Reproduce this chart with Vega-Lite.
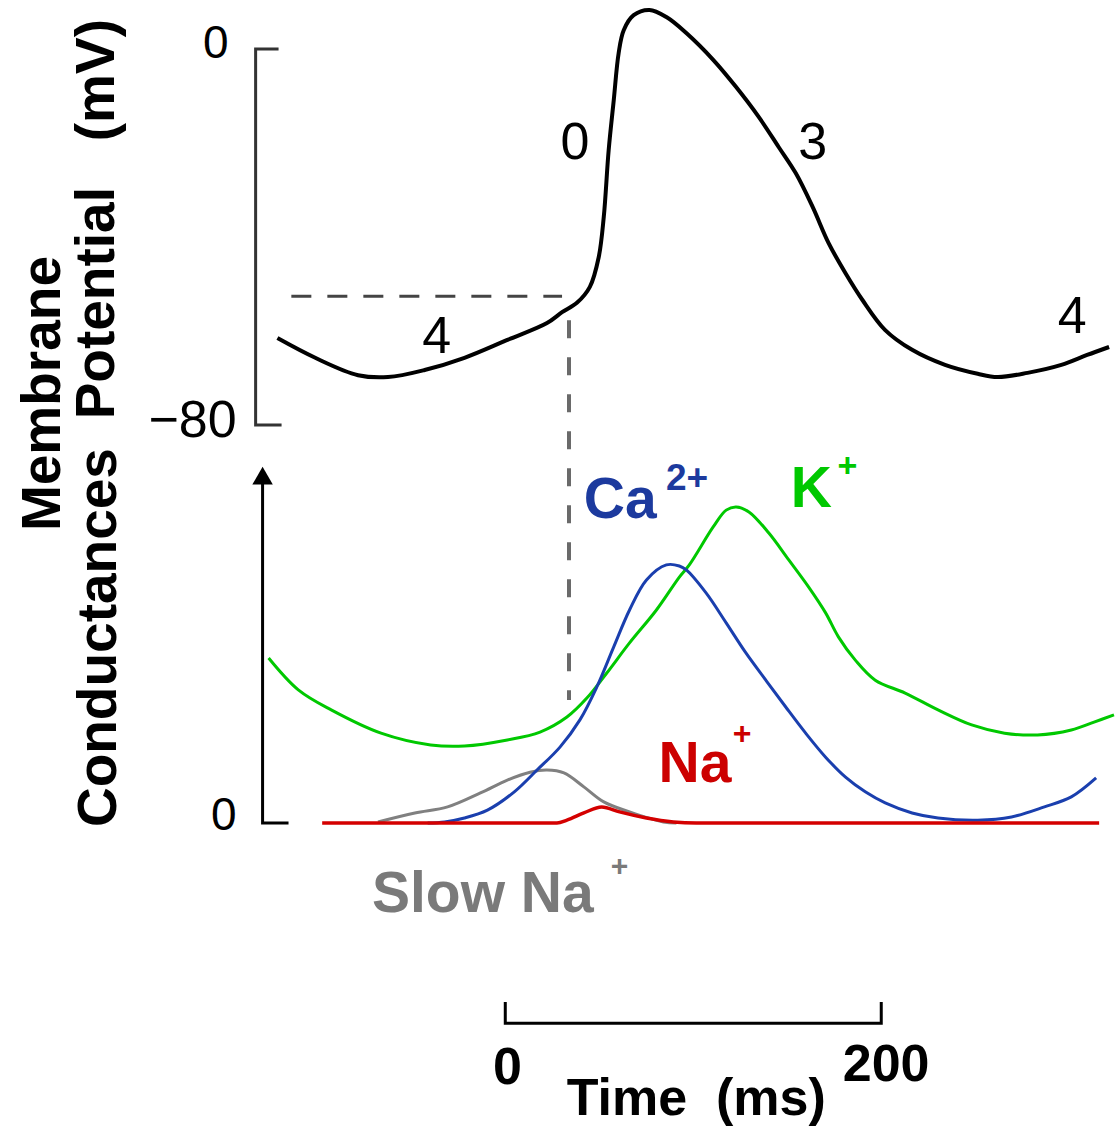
{
  "$schema": "https://vega.github.io/schema/vega-lite/v6.json",
  "width": 1120,
  "height": 1134,
  "autosize": {"type": "fit", "contains": "padding"},
  "padding": 0,
  "background": "white",
  "config": {"view": {"stroke": null}, "font": "Liberation Sans", "text": {"font": "Liberation Sans"}},
  "layer": [
    {
      "layer": [
        {
          "data": {"values": [
            {"t": -120.6, "v": 0, "o": 1},
            {"t": -132.8, "v": 0, "o": 2},
            {"t": -132.8, "v": -80, "o": 3},
            {"t": -119.0, "v": -80, "o": 4}
          ]},
          "mark": {"type": "line", "stroke": "#333333", "strokeWidth": 3, "strokeJoin": "miter", "strokeCap": "butt"},
          "encoding": {
            "x": {"field": "t", "type": "quantitative", "scale": {"domain": [-268.78, 323.81], "nice": false, "zero": false}, "axis": null},
            "y": {"field": "v", "type": "quantitative", "scale": {"domain": [-230.85, 10.43], "nice": false, "zero": false}, "axis": null},
            "order": {"field": "o", "type": "quantitative"}
          }
        },
        {
          "data": {"values": [{"t1": -113.8, "t2": 30.2, "v": -52.6}]},
          "mark": {"type": "rule", "stroke": "#444444", "strokeWidth": 3, "strokeDash": [20, 16]},
          "encoding": {
            "x": {"field": "t1", "type": "quantitative", "scale": {"domain": [-268.78, 323.81], "nice": false, "zero": false}, "axis": null},
            "x2": {"field": "t2"},
            "y": {"field": "v", "type": "quantitative", "scale": {"domain": [-230.85, 10.43], "nice": false, "zero": false}, "axis": null}
          }
        },
        {
          "data": {"values": [{"t": 33.9, "v1": -57.7, "v2": -138.5}]},
          "mark": {"type": "rule", "stroke": "#6a6a6a", "strokeWidth": 4, "strokeDash": [18, 19]},
          "encoding": {
            "x": {"field": "t", "type": "quantitative", "scale": {"domain": [-268.78, 323.81], "nice": false, "zero": false}, "axis": null},
            "y": {"field": "v1", "type": "quantitative", "scale": {"domain": [-230.85, 10.43], "nice": false, "zero": false}, "axis": null},
            "y2": {"field": "v2"}
          }
        },
        {
          "data": {"values": [
            {"t": -121.2, "v": -61.5}, {"t": -101.1, "v": -65.7}, {"t": -78.3, "v": -69.4},
            {"t": -62.4, "v": -69.8}, {"t": -42.9, "v": -68.3}, {"t": -21.7, "v": -65.7},
            {"t": 1.1, "v": -61.9}, {"t": 22.2, "v": -58.3}, {"t": 30.2, "v": -56.0},
            {"t": 38.1, "v": -54.0}, {"t": 45.0, "v": -50.6}, {"t": 49.7, "v": -44.3},
            {"t": 52.4, "v": -35.7}, {"t": 55.0, "v": -21.5}, {"t": 57.7, "v": -10.9},
            {"t": 60.3, "v": -0.9}, {"t": 63.0, "v": 4.0}, {"t": 68.3, "v": 7.2},
            {"t": 76.7, "v": 8.3}, {"t": 85.7, "v": 6.8}, {"t": 96.3, "v": 3.4},
            {"t": 110.6, "v": -2.3}, {"t": 122.8, "v": -8.1}, {"t": 134.9, "v": -14.5},
            {"t": 145.5, "v": -20.9}, {"t": 154.5, "v": -26.4}, {"t": 163.5, "v": -33.6},
            {"t": 172.0, "v": -41.3}, {"t": 181.0, "v": -47.7}, {"t": 190.0, "v": -53.4},
            {"t": 202.1, "v": -59.8}, {"t": 216.4, "v": -64.0}, {"t": 233.9, "v": -67.2},
            {"t": 251.3, "v": -69.1}, {"t": 261.9, "v": -69.8}, {"t": 277.8, "v": -68.9},
            {"t": 295.8, "v": -67.2}, {"t": 309.5, "v": -65.1}, {"t": 321.2, "v": -63.4}
          ]},
          "mark": {"type": "line", "stroke": "#000000", "strokeWidth": 4, "interpolate": "catmull-rom"},
          "encoding": {
            "x": {"field": "t", "type": "quantitative", "scale": {"domain": [-268.78, 323.81], "nice": false, "zero": false}, "axis": null},
            "y": {"field": "v", "type": "quantitative", "scale": {"domain": [-230.85, 10.43], "nice": false, "zero": false}, "axis": null}
          }
        },
        {
          "data": {"values": [
            {"t": 37.0, "v": -23.4, "label": "0"},
            {"t": 163.5, "v": -23.4, "label": "3"},
            {"t": -36.5, "v": -64.7, "label": "4"},
            {"t": 301.6, "v": -60.4, "label": "4"}
          ]},
          "mark": {"type": "text", "fontSize": 52, "align": "center", "baseline": "alphabetic", "color": "#000000"},
          "encoding": {
            "x": {"field": "t", "type": "quantitative", "scale": {"domain": [-268.78, 323.81], "nice": false, "zero": false}, "axis": null},
            "y": {"field": "v", "type": "quantitative", "scale": {"domain": [-230.85, 10.43], "nice": false, "zero": false}, "axis": null},
            "text": {"field": "label"}
          }
        },
        {
          "data": {"values": [
            {"t": -154.0, "v": -1.9, "label": "0"}
          ]},
          "mark": {"type": "text", "fontSize": 46, "align": "center", "baseline": "alphabetic", "color": "#000000"},
          "encoding": {
            "x": {"field": "t", "type": "quantitative", "scale": {"domain": [-268.78, 323.81], "nice": false, "zero": false}, "axis": null},
            "y": {"field": "v", "type": "quantitative", "scale": {"domain": [-230.85, 10.43], "nice": false, "zero": false}, "axis": null},
            "text": {"field": "label"}
          }
        },
        {
          "data": {"values": [
            {"t": -142.9, "v": -82.6, "label": "−80"}
          ]},
          "mark": {"type": "text", "fontSize": 52, "align": "right", "baseline": "alphabetic", "color": "#000000"},
          "encoding": {
            "x": {"field": "t", "type": "quantitative", "scale": {"domain": [-268.78, 323.81], "nice": false, "zero": false}, "axis": null},
            "y": {"field": "v", "type": "quantitative", "scale": {"domain": [-230.85, 10.43], "nice": false, "zero": false}, "axis": null},
            "text": {"field": "label"}
          }
        },
        {
          "data": {"values": [
            {"t": -237.0, "v": -73.3, "label": "Membrane"},
            {"t": -207.9, "v": -36.2, "label": "Potential\u00a0\u00a0\u00a0(mV)"}
          ]},
          "mark": {"type": "text", "fontSize": 55, "fontWeight": "bold", "angle": 270, "align": "center", "baseline": "alphabetic", "color": "#000000"},
          "encoding": {
            "x": {"field": "t", "type": "quantitative", "scale": {"domain": [-268.78, 323.81], "nice": false, "zero": false}, "axis": null},
            "y": {"field": "v", "type": "quantitative", "scale": {"domain": [-230.85, 10.43], "nice": false, "zero": false}, "axis": null},
            "text": {"field": "label"}
          }
        }
      ]
    },
    {
      "layer": [
        {
          "data": {"values": [
            {"t": -129.1, "g": 95, "o": 1},
            {"t": -129.1, "g": 0, "o": 2},
            {"t": -115.3, "g": 0, "o": 3}
          ]},
          "mark": {"type": "line", "stroke": "#000000", "strokeWidth": 3, "strokeJoin": "miter", "strokeCap": "butt"},
          "encoding": {
            "x": {"field": "t", "type": "quantitative", "scale": {"domain": [-268.78, 323.81], "nice": false, "zero": false}, "axis": null},
            "y": {"field": "g", "type": "quantitative", "scale": {"domain": [-86.87, 229.89], "nice": false, "zero": false}, "axis": null},
            "order": {"field": "o", "type": "quantitative"}
          }
        },
        {
          "data": {"values": [{"t": -129.1, "g": 97.0}]},
          "mark": {"type": "point", "shape": "triangle-up", "filled": true, "size": 420, "color": "#000000", "opacity": 1},
          "encoding": {
            "x": {"field": "t", "type": "quantitative", "scale": {"domain": [-268.78, 323.81], "nice": false, "zero": false}, "axis": null},
            "y": {"field": "g", "type": "quantitative", "scale": {"domain": [-86.87, 229.89], "nice": false, "zero": false}, "axis": null}
          }
        },
        {
          "data": {"values": [
            {"t": -125.9, "g": 46.1}, {"t": -110.1, "g": 37.2}, {"t": -92.6, "g": 31.6},
            {"t": -66.1, "g": 25.1}, {"t": -39.7, "g": 21.8}, {"t": -21.7, "g": 21.5},
            {"t": 1.1, "g": 23.2}, {"t": 18.5, "g": 25.4}, {"t": 32.8, "g": 29.6},
            {"t": 43.4, "g": 34.9}, {"t": 54.0, "g": 41.9}, {"t": 66.1, "g": 50.3},
            {"t": 80.4, "g": 59.5}, {"t": 92.6, "g": 68.7}, {"t": 97.9, "g": 72.1},
            {"t": 110.6, "g": 82.7}, {"t": 117.5, "g": 87.4}, {"t": 122.8, "g": 88.3},
            {"t": 129.6, "g": 86.9}, {"t": 140.2, "g": 81.0}, {"t": 150.8, "g": 73.5},
            {"t": 161.4, "g": 65.9}, {"t": 170.4, "g": 58.7}, {"t": 177.2, "g": 52.0},
            {"t": 186.2, "g": 45.5}, {"t": 196.8, "g": 39.9}, {"t": 212.7, "g": 36.3},
            {"t": 230.2, "g": 31.6}, {"t": 248.1, "g": 27.4}, {"t": 265.6, "g": 25.1},
            {"t": 283.1, "g": 24.6}, {"t": 301.1, "g": 26.0}, {"t": 313.2, "g": 28.2},
            {"t": 323.8, "g": 30.2}
          ]},
          "mark": {"type": "line", "stroke": "#00c800", "strokeWidth": 3, "interpolate": "catmull-rom"},
          "encoding": {
            "x": {"field": "t", "type": "quantitative", "scale": {"domain": [-268.78, 323.81], "nice": false, "zero": false}, "axis": null},
            "y": {"field": "g", "type": "quantitative", "scale": {"domain": [-86.87, 229.89], "nice": false, "zero": false}, "axis": null}
          }
        },
        {
          "data": {"values": [
            {"t": -67.7, "g": 0.3}, {"t": -48.1, "g": 2.8}, {"t": -30.7, "g": 4.5},
            {"t": -13.2, "g": 8.4}, {"t": 1.1, "g": 12.0}, {"t": 13.2, "g": 14.2},
            {"t": 22.2, "g": 14.8}, {"t": 31.2, "g": 14.0}, {"t": 41.8, "g": 10.1},
            {"t": 52.4, "g": 5.9}, {"t": 66.1, "g": 3.1}, {"t": 84.1, "g": 0.3},
            {"t": 91.0, "g": 0}
          ]},
          "mark": {"type": "line", "stroke": "#808080", "strokeWidth": 3, "interpolate": "catmull-rom"},
          "encoding": {
            "x": {"field": "t", "type": "quantitative", "scale": {"domain": [-268.78, 323.81], "nice": false, "zero": false}, "axis": null},
            "y": {"field": "g", "type": "quantitative", "scale": {"domain": [-86.87, 229.89], "nice": false, "zero": false}, "axis": null}
          }
        },
        {
          "data": {"values": [
            {"t": -41.3, "g": 0}, {"t": -32.3, "g": 0.3}, {"t": -21.7, "g": 1.4},
            {"t": -9.5, "g": 3.6}, {"t": 4.8, "g": 8.7}, {"t": 16.9, "g": 14.8},
            {"t": 29.1, "g": 21.2}, {"t": 39.7, "g": 28.8}, {"t": 48.7, "g": 38.0},
            {"t": 57.7, "g": 49.2}, {"t": 66.1, "g": 59.5}, {"t": 75.1, "g": 67.9},
            {"t": 85.7, "g": 72.1}, {"t": 92.6, "g": 71.8}, {"t": 96.3, "g": 70.7},
            {"t": 106.9, "g": 64.2}, {"t": 117.5, "g": 55.9}, {"t": 128.0, "g": 47.5},
            {"t": 138.6, "g": 39.9}, {"t": 149.2, "g": 32.4}, {"t": 159.8, "g": 25.1},
            {"t": 170.4, "g": 18.4}, {"t": 181.0, "g": 12.8}, {"t": 191.5, "g": 8.7},
            {"t": 202.1, "g": 5.6}, {"t": 216.4, "g": 2.8}, {"t": 230.2, "g": 1.4},
            {"t": 251.3, "g": 0.8}, {"t": 269.3, "g": 1.7}, {"t": 286.8, "g": 4.5},
            {"t": 301.1, "g": 7.3}, {"t": 314.3, "g": 12.6}
          ]},
          "mark": {"type": "line", "stroke": "#1a3fae", "strokeWidth": 3, "interpolate": "catmull-rom"},
          "encoding": {
            "x": {"field": "t", "type": "quantitative", "scale": {"domain": [-268.78, 323.81], "nice": false, "zero": false}, "axis": null},
            "y": {"field": "g", "type": "quantitative", "scale": {"domain": [-86.87, 229.89], "nice": false, "zero": false}, "axis": null}
          }
        },
        {
          "data": {"values": [
            {"t": -97.4, "g": 0}, {"t": 27.5, "g": 0}, {"t": 32.8, "g": 0.8},
            {"t": 41.8, "g": 2.8}, {"t": 51.3, "g": 4.5}, {"t": 60.8, "g": 3.1},
            {"t": 75.1, "g": 1.4}, {"t": 89.4, "g": 0.3}, {"t": 101.6, "g": 0},
            {"t": 315.9, "g": 0}
          ]},
          "mark": {"type": "line", "stroke": "#d40000", "strokeWidth": 3.5, "interpolate": "monotone"},
          "encoding": {
            "x": {"field": "t", "type": "quantitative", "scale": {"domain": [-268.78, 323.81], "nice": false, "zero": false}, "axis": null},
            "y": {"field": "g", "type": "quantitative", "scale": {"domain": [-86.87, 229.89], "nice": false, "zero": false}, "axis": null}
          }
        },
        {
          "data": {"values": [{"t": 41.8, "g": 85.2, "label": "Ca"}]},
          "mark": {"type": "text", "fontSize": 57, "fontWeight": "bold", "align": "left", "baseline": "alphabetic", "color": "#1c3a9e"},
          "encoding": {
            "x": {"field": "t", "type": "quantitative", "scale": {"domain": [-268.78, 323.81], "nice": false, "zero": false}, "axis": null},
            "y": {"field": "g", "type": "quantitative", "scale": {"domain": [-86.87, 229.89], "nice": false, "zero": false}, "axis": null},
            "text": {"field": "label"}
          }
        },
        {
          "data": {"values": [{"t": 85.5, "g": 93.0, "label": "2+"}]},
          "mark": {"type": "text", "fontSize": 37, "fontWeight": "bold", "align": "left", "baseline": "alphabetic", "color": "#1c3a9e"},
          "encoding": {
            "x": {"field": "t", "type": "quantitative", "scale": {"domain": [-268.78, 323.81], "nice": false, "zero": false}, "axis": null},
            "y": {"field": "g", "type": "quantitative", "scale": {"domain": [-86.87, 229.89], "nice": false, "zero": false}, "axis": null},
            "text": {"field": "label"}
          }
        },
        {
          "data": {"values": [{"t": 151.9, "g": 88.3, "label": "K"}]},
          "mark": {"type": "text", "fontSize": 57, "fontWeight": "bold", "align": "left", "baseline": "alphabetic", "color": "#00c800"},
          "encoding": {
            "x": {"field": "t", "type": "quantitative", "scale": {"domain": [-268.78, 323.81], "nice": false, "zero": false}, "axis": null},
            "y": {"field": "g", "type": "quantitative", "scale": {"domain": [-86.87, 229.89], "nice": false, "zero": false}, "axis": null},
            "text": {"field": "label"}
          }
        },
        {
          "data": {"values": [{"t": 182.0, "g": 99.4, "label": "+"}]},
          "mark": {"type": "text", "fontSize": 34, "fontWeight": "bold", "align": "center", "baseline": "middle", "color": "#00c800"},
          "encoding": {
            "x": {"field": "t", "type": "quantitative", "scale": {"domain": [-268.78, 323.81], "nice": false, "zero": false}, "axis": null},
            "y": {"field": "g", "type": "quantitative", "scale": {"domain": [-86.87, 229.89], "nice": false, "zero": false}, "axis": null},
            "text": {"field": "label"}
          }
        },
        {
          "data": {"values": [{"t": 81.5, "g": 11.5, "label": "Na"}]},
          "mark": {"type": "text", "fontSize": 57, "fontWeight": "bold", "align": "left", "baseline": "alphabetic", "color": "#cc0000"},
          "encoding": {
            "x": {"field": "t", "type": "quantitative", "scale": {"domain": [-268.78, 323.81], "nice": false, "zero": false}, "axis": null},
            "y": {"field": "g", "type": "quantitative", "scale": {"domain": [-86.87, 229.89], "nice": false, "zero": false}, "axis": null},
            "text": {"field": "label"}
          }
        },
        {
          "data": {"values": [{"t": 126.0, "g": 25.0, "label": "+"}]},
          "mark": {"type": "text", "fontSize": 32, "fontWeight": "bold", "align": "center", "baseline": "middle", "color": "#cc0000"},
          "encoding": {
            "x": {"field": "t", "type": "quantitative", "scale": {"domain": [-268.78, 323.81], "nice": false, "zero": false}, "axis": null},
            "y": {"field": "g", "type": "quantitative", "scale": {"domain": [-86.87, 229.89], "nice": false, "zero": false}, "axis": null},
            "text": {"field": "label"}
          }
        },
        {
          "data": {"values": [{"t": -70.9, "g": -24.9, "label": "Slow Na"}]},
          "mark": {"type": "text", "fontSize": 57, "fontWeight": "bold", "align": "left", "baseline": "alphabetic", "color": "#7a7a7a"},
          "encoding": {
            "x": {"field": "t", "type": "quantitative", "scale": {"domain": [-268.78, 323.81], "nice": false, "zero": false}, "axis": null},
            "y": {"field": "g", "type": "quantitative", "scale": {"domain": [-86.87, 229.89], "nice": false, "zero": false}, "axis": null},
            "text": {"field": "label"}
          }
        },
        {
          "data": {"values": [{"t": 60.8, "g": -12.3, "label": "+"}]},
          "mark": {"type": "text", "fontSize": 30, "fontWeight": "bold", "align": "center", "baseline": "middle", "color": "#7a7a7a"},
          "encoding": {
            "x": {"field": "t", "type": "quantitative", "scale": {"domain": [-268.78, 323.81], "nice": false, "zero": false}, "axis": null},
            "y": {"field": "g", "type": "quantitative", "scale": {"domain": [-86.87, 229.89], "nice": false, "zero": false}, "axis": null},
            "text": {"field": "label"}
          }
        },
        {
          "data": {"values": [{"t": -149.7, "g": -2.0, "label": "0"}]},
          "mark": {"type": "text", "fontSize": 46, "align": "center", "baseline": "alphabetic", "color": "#000000"},
          "encoding": {
            "x": {"field": "t", "type": "quantitative", "scale": {"domain": [-268.78, 323.81], "nice": false, "zero": false}, "axis": null},
            "y": {"field": "g", "type": "quantitative", "scale": {"domain": [-86.87, 229.89], "nice": false, "zero": false}, "axis": null},
            "text": {"field": "label"}
          }
        },
        {
          "data": {"values": [{"t": -206.9, "g": 51.8, "label": "Conductances"}]},
          "mark": {"type": "text", "fontSize": 55, "fontWeight": "bold", "angle": 270, "align": "center", "baseline": "alphabetic", "color": "#000000"},
          "encoding": {
            "x": {"field": "t", "type": "quantitative", "scale": {"domain": [-268.78, 323.81], "nice": false, "zero": false}, "axis": null},
            "y": {"field": "g", "type": "quantitative", "scale": {"domain": [-86.87, 229.89], "nice": false, "zero": false}, "axis": null},
            "text": {"field": "label"}
          }
        },
        {
          "data": {"values": [
            {"t": 0, "g": -50.0, "o": 1},
            {"t": 0, "g": -55.9, "o": 2},
            {"t": 200, "g": -55.9, "o": 3},
            {"t": 200, "g": -50.0, "o": 4}
          ]},
          "mark": {"type": "line", "stroke": "#000000", "strokeWidth": 3, "strokeJoin": "miter", "strokeCap": "butt"},
          "encoding": {
            "x": {"field": "t", "type": "quantitative", "scale": {"domain": [-268.78, 323.81], "nice": false, "zero": false}, "axis": null},
            "y": {"field": "g", "type": "quantitative", "scale": {"domain": [-86.87, 229.89], "nice": false, "zero": false}, "axis": null},
            "order": {"field": "o", "type": "quantitative"}
          }
        },
        {
          "data": {"values": [
            {"t": 1.1, "g": -72.9, "label": "0"},
            {"t": 202.6, "g": -72.1, "label": "200"}
          ]},
          "mark": {"type": "text", "fontSize": 52, "fontWeight": "bold", "align": "center", "baseline": "alphabetic", "color": "#000000"},
          "encoding": {
            "x": {"field": "t", "type": "quantitative", "scale": {"domain": [-268.78, 323.81], "nice": false, "zero": false}, "axis": null},
            "y": {"field": "g", "type": "quantitative", "scale": {"domain": [-86.87, 229.89], "nice": false, "zero": false}, "axis": null},
            "text": {"field": "label"}
          }
        },
        {
          "data": {"values": [{"t": 101.6, "g": -81.6, "label": "Time\u00a0\u00a0(ms)"}]},
          "mark": {"type": "text", "fontSize": 52, "fontWeight": "bold", "align": "center", "baseline": "alphabetic", "color": "#000000"},
          "encoding": {
            "x": {"field": "t", "type": "quantitative", "scale": {"domain": [-268.78, 323.81], "nice": false, "zero": false}, "axis": null},
            "y": {"field": "g", "type": "quantitative", "scale": {"domain": [-86.87, 229.89], "nice": false, "zero": false}, "axis": null},
            "text": {"field": "label"}
          }
        }
      ]
    }
  ],
  "resolve": {"scale": {"y": "independent"}}
}
